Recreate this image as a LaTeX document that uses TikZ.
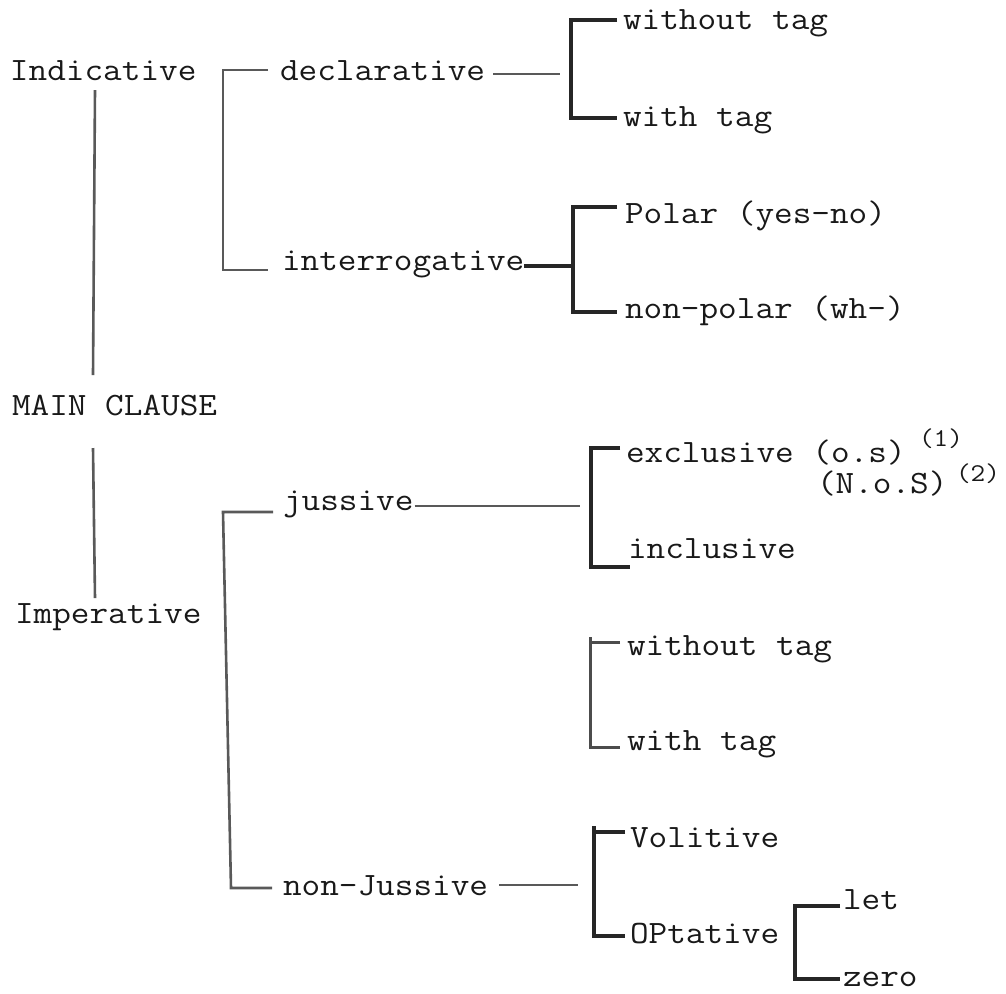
\documentclass[tikz,border=0pt]{standalone}
\usepackage{fontspec}
\usepackage{graphicx}
\newcommand{\vsq}[1]{\scalebox{1}[0.9]{#1}}
\tikzset{
  tx/.style={anchor=base west, inner sep=0pt, outer sep=0pt, text=black!90,
    font=\fontsize{18.1pt}{20pt}\selectfont\ttfamily\addfontfeatures{FakeBold=1.6}},
  supx/.style={anchor=base west, inner sep=0pt, outer sep=0pt, text=black!90,
    font=\fontsize{14.2pt}{16pt}\selectfont\ttfamily\addfontfeatures{FakeBold=1.6}},
  ln/.style={line width=1.3pt, draw=black!65},
  lnk/.style={line width=1.7pt, draw=black!85},
  lnt/.style={line width=1.5pt, draw=black!70}
}
\begin{document}
\begin{tikzpicture}[x=0.5pt,y=-0.5pt]
\fill[white] (0,0) rectangle (1006,993);
\useasboundingbox (0,0) rectangle (1006,993);

% ---- text nodes ----
\node[tx] (ind)      at (10,80)   {\vsq{Indicative}};
\node[tx] (decl)     at (280,80)  {\vsq{declarative}};
\node[tx] (interrog) at (282,270) {\vsq{interrogative}};
\node[tx] (wot1)     at (623,29)  {\vsq{without tag}};
\node[tx] (wt1)      at (623,126) {\vsq{with tag}};
\node[tx] (polar)    at (625,223) {\vsq{Polar (yes-no)}};
\node[tx] (nonpolar) at (625,318) {\vsq{non-polar (wh-)}};
\node[tx] (main)     at (12,415)  {\vsq{MAIN CLAUSE}};
\node[tx] (excl)     at (626,462) {\vsq{exclusive (o.s)}};
\node[supx] (sup1)   at (919,446) {\vsq{(1)}};
\node[tx] (nos)      at (817,493) {\vsq{(N.o.S)}};
\node[supx] (sup2)   at (956,481) {\vsq{(2)}};
\node[tx] (juss)     at (283,510) {\vsq{jussive}};
\node[tx] (incl)     at (628,558) {\vsq{inclusive}};
\node[tx] (imp)      at (15,623)  {\vsq{Imperative}};
\node[tx] (wot2)     at (627,655) {\vsq{without tag}};
\node[tx] (wt2)      at (627,750) {\vsq{with tag}};
\node[tx] (vol)      at (630,847) {\vsq{Volitive}};
\node[tx] (nonj)     at (283,895) {\vsq{non-Jussive}};
\node[tx] (opt)      at (630,943) {\vsq{OPtative}};
\node[tx] (nlet)     at (843,909) {\vsq{let}};
\node[tx] (nzero)    at (843,986) {\vsq{zero}};

% ---- bracket junctions ----
\coordinate (cI) at (223,170);
\coordinate (cD) at (571,74);
\coordinate (cP) at (573,266);
\coordinate (mT) at (223,512);
\coordinate (mB) at (231,888);
\coordinate (cJ) at (591,506);
\coordinate (cT) at (590,700);
\coordinate (cTo) at (590,637);
\coordinate (cV) at (594,885);
\coordinate (cVo) at (594,826);
\coordinate (cO) at (795,945);

% ---- left spine ----
\draw[ln] ([shift={(85,10)}]ind.base west) -- ([shift={(81,-40)}]main.base west);
\draw[ln] ([shift={(81,33)}]main.base west) -- ([shift={(80,-25)}]imp.base west);

% ---- Indicative bracket ----
\draw[ln] ([shift={(-12,-10)}]decl.base west) -| (cI) |- ([shift={(-14,0)}]interrog.base west);

% ---- declarative ----
\draw[ln] ([shift={(8,-6)}]decl.base east) -- ([shift={(-11,0)}]cD);
\draw[lnk] ([shift={(-6,-9)}]wot1.base west) -| (cD) |- ([shift={(-6,-8)}]wt1.base west);

% ---- interrogative ----
\draw[lnk] ([shift={(0,-4)}]interrog.base east) -- (cP);
\draw[lnk] ([shift={(-8,-16)}]polar.base west) -| (cP) |- ([shift={(-8,-6)}]nonpolar.base west);

% ---- Imperative bracket ----
\draw[ln] ([shift={(-10,2)}]juss.base west) -- (mT) -- (mB) -- ([shift={(-11,-7)}]nonj.base west);

% ---- jussive ----
\draw[ln] ([shift={(1,-4)}]juss.base east) -- ([shift={(-11,0)}]cJ);
\draw[lnk] ([shift={(-6,-14)}]excl.base west) -| (cJ) |- ([shift={(2,9)}]incl.base west);

% ---- second tag group ----
\draw[lnt] ([shift={(-7,-13)}]wot2.base west) -| (cT) |- ([shift={(-7,-3)}]wt2.base west);
\draw[lnt] (cTo) -- ([shift={(0,8)}]cTo);

% ---- non-Jussive ----
\draw[ln] ([shift={(11,-10)}]nonj.base east) -- ([shift={(-16,0)}]cV);
\draw[lnk] ([shift={(-5,-15)}]vol.base west) -| (cV) |- ([shift={(-5,-7)}]opt.base west);
\draw[lnk] (cVo) -- ([shift={(0,8)}]cVo);

% ---- OPtative ----
\draw[lnk] ([shift={(-3,-3)}]nlet.base west) -| (cO) |- ([shift={(-3,-7)}]nzero.base west);
\end{tikzpicture}
\end{document}
